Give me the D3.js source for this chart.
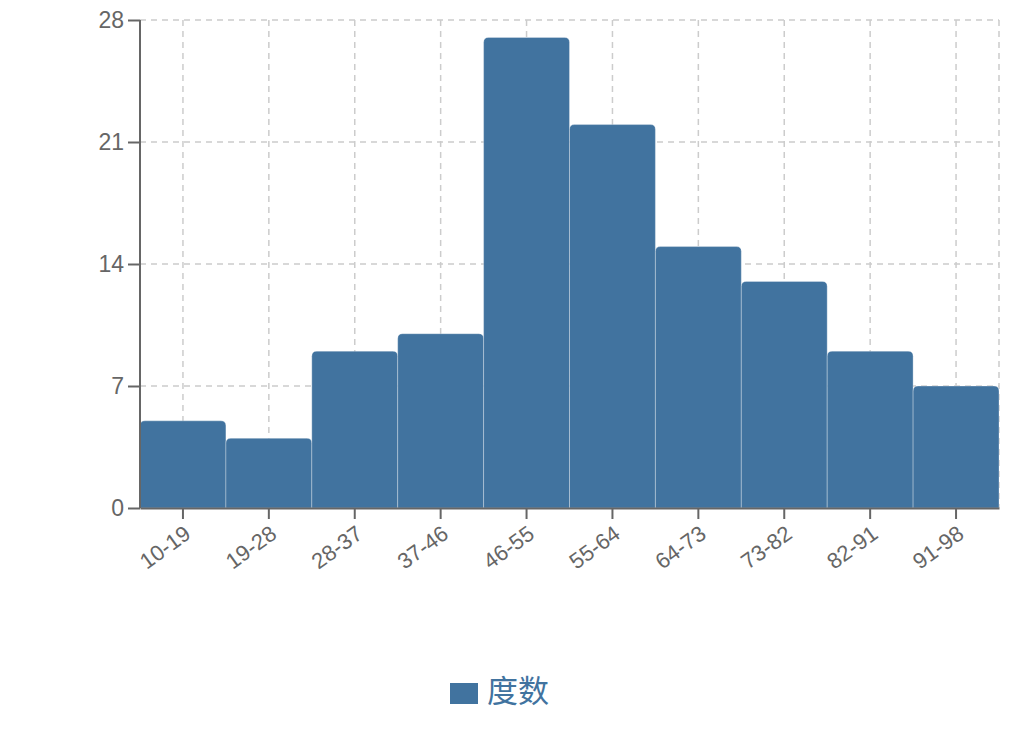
<!DOCTYPE html>
<html><head><meta charset="utf-8">
<script src="https://cdn.jsdelivr.net/npm/d3@7"></script>
<style>body{margin:0;background:#fff;font-family:"Liberation Sans",Arial,sans-serif;}</style>
</head><body><svg id="c" width="1020" height="736"></svg>
<script>
const categories = ["10-19","19-28","28-37","37-46","46-55","55-64","64-73","73-82","82-91","91-98"];
const values = [5,4,9,10,27,22,15,13,9,7];
const yTicks = [0,7,14,21,28];
const seriesName = "度数";
const color = "#41739f";

const svg = d3.select("#c");
const m = {l:140, r:999, t:20, b:508};
const x = d3.scaleBand().domain(categories).range([m.l, m.r]).padding(0);
const y = d3.scaleLinear().domain([0,28]).range([m.b, m.t]);

// grid
const g = svg.append("g");
g.selectAll(".hg").data(yTicks).enter().append("line")
  .attr("x1", m.l).attr("x2", m.r).attr("y1", d=>y(d)).attr("y2", d=>y(d))
  .attr("stroke","#ccc").attr("stroke-width",1.5).attr("stroke-dasharray","6,5");
g.selectAll(".vg").data(categories).enter().append("line")
  .attr("x1", d=>x(d)+x.bandwidth()/2).attr("x2", d=>x(d)+x.bandwidth()/2)
  .attr("y1", m.t).attr("y2", m.b)
  .attr("stroke","#ccc").attr("stroke-width",1.5).attr("stroke-dasharray","6,5");
g.append("line").attr("x1", m.r).attr("x2", m.r).attr("y1", m.t).attr("y2", m.b)
  .attr("stroke","#ccc").attr("stroke-width",1.5).attr("stroke-dasharray","6,5");

// bars with rounded top corners
const r = 5;
svg.append("g").selectAll("path").data(categories).enter().append("path")
  .attr("d", (d,i) => {
    const x0 = x(d), x1 = x(d)+x.bandwidth(), y0 = y(values[i]), yb = y(0);
    return `M${x0},${yb}L${x0},${y0+r}Q${x0},${y0} ${x0+r},${y0}L${x1-r},${y0}Q${x1},${y0} ${x1},${y0+r}L${x1},${yb}Z`;
  })
  .attr("fill", color).attr("stroke","rgba(255,255,255,0.3)").attr("stroke-width",1);

// axes
const yAxis = d3.axisLeft(y).tickValues(yTicks).tickSize(12).tickPadding(4);
const ya = svg.append("g").attr("transform",`translate(${m.l},0)`).call(yAxis);
ya.select(".domain").attr("stroke","#666").attr("stroke-width",2).attr("d",`M0,${m.t}V${m.b}`);
ya.selectAll(".tick line").attr("stroke","#666").attr("stroke-width",2);
ya.selectAll("text").attr("fill","#666").style("font-size","23px").style("font-family","Liberation Sans, Arial, sans-serif");

const xAxis = d3.axisBottom(x).tickSize(11).tickSizeOuter(0);
const xa = svg.append("g").attr("transform",`translate(0,${m.b})`).call(xAxis);
xa.select(".domain").attr("stroke","#666").attr("stroke-width",2);
xa.selectAll(".tick line").attr("stroke","#666").attr("stroke-width",2);
xa.selectAll("text").attr("fill","#666").style("font-size","22px").style("font-family","Liberation Sans, Arial, sans-serif")
  .attr("text-anchor","end").attr("x",null).attr("y",null).attr("dy","0.72em")
  .attr("transform","translate(0,16) rotate(-36)");

// legend
const lg = svg.append("g");
lg.append("rect").attr("x",450).attr("y",683).attr("width",28).attr("height",21).attr("fill",color);
lg.append("text").attr("x",487).attr("y",702).text(seriesName).attr("fill",color)
  .style("font-size","31px").style("font-family","Noto Sans CJK SC, sans-serif");
</script></body></html>
